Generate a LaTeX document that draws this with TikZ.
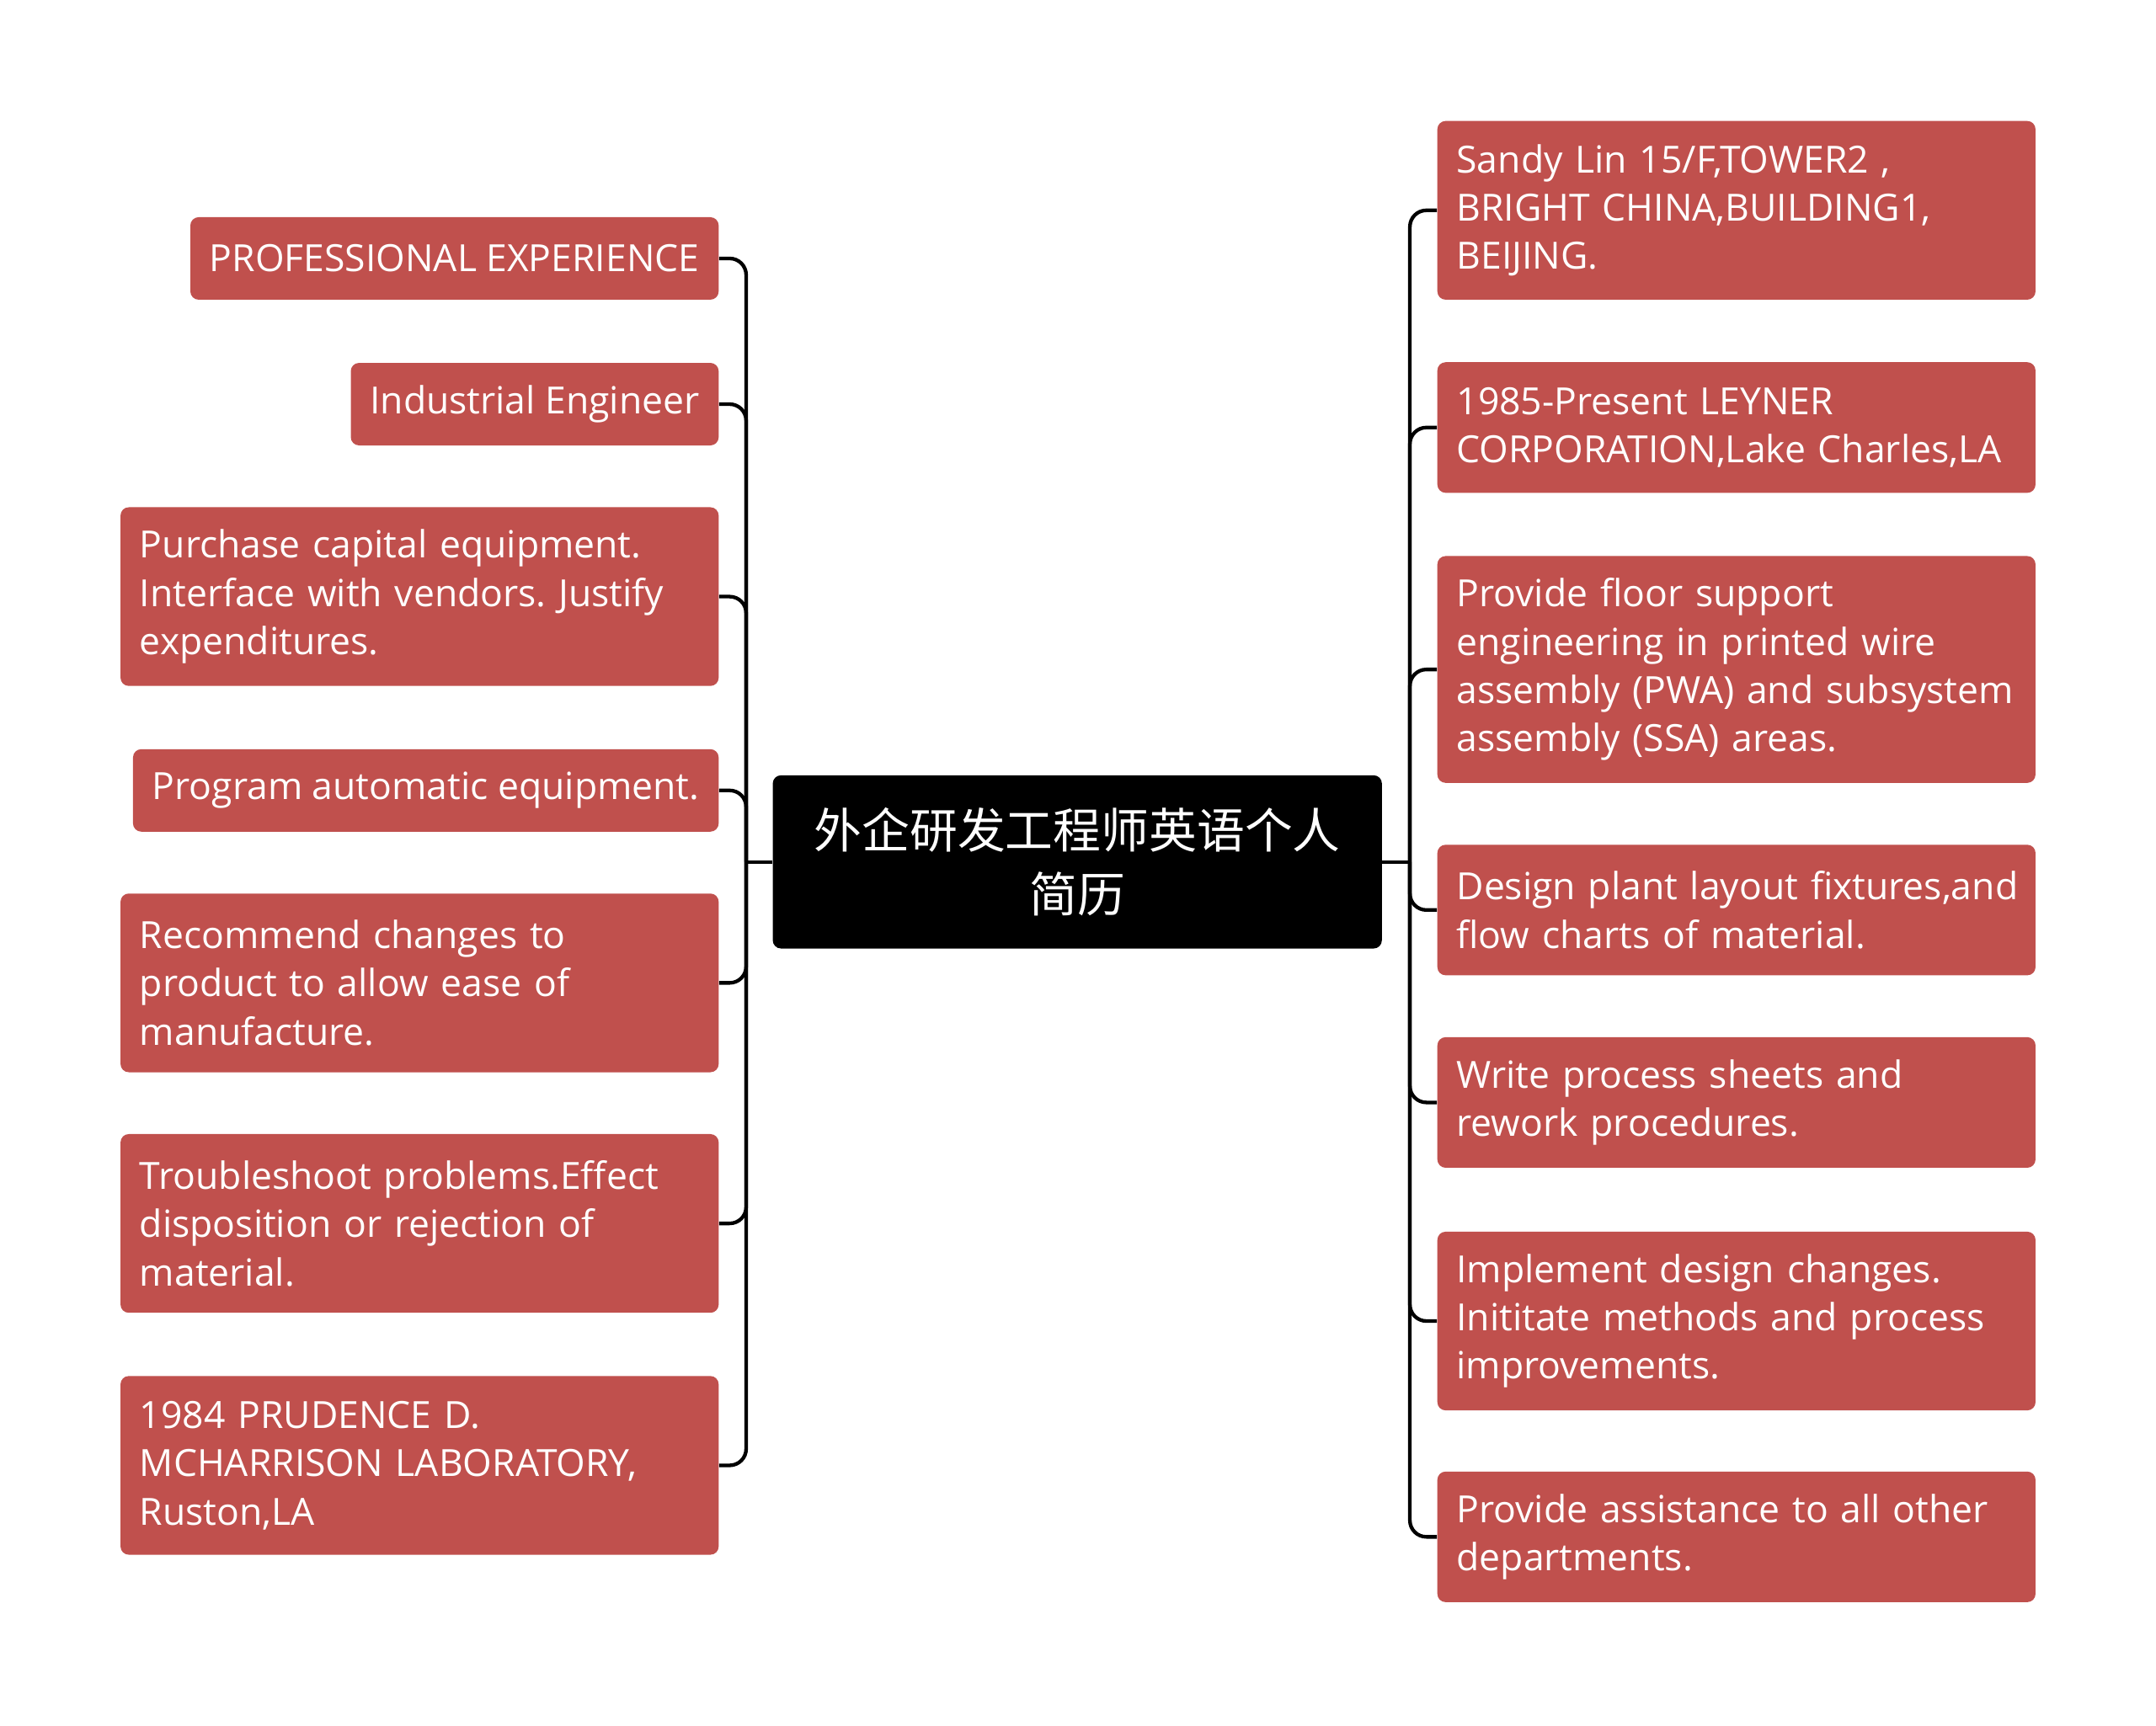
\documentclass[tikz,border=0pt]{standalone}
\usepackage{fontspec}
\setmainfont{Open Sans}
\newfontfamily\cjk{Noto Sans CJK SC}
\definecolor{boxred}{RGB}{192,80,77}
\frenchspacing
\begin{document}
\begin{tikzpicture}
    \useasboundingbox (0,0) rectangle (31.36,-25.1);
    \tikzstyle{item} = [rectangle, rounded corners=0.12cm, fill=boxred, text=white, inner xsep=0.28cm, align=left, font=\fontsize{15.5}{20}\selectfont]
    \tikzstyle{wide} = [item, text width=8.14cm]
    \tikzstyle{conn} = [line width=1.5pt, rounded corners=0.24cm]
    \node [rectangle, rounded corners=0.12cm, fill=black, text=white, align=center, minimum width=8.86cm, minimum height=2.52cm, font=\cjk\fontsize{19.8}{26.5}\selectfont] (root) at (15.67,-12.54) {外企研发工程师英语个人\\简历};
    % left side
    \node [item, anchor=east, minimum height=1.2cm] (pe) at (10.46,-3.76) {PROFESSIONAL EXPERIENCE};
    \node [item, anchor=east, minimum height=1.2cm] (ie) at (10.46,-5.88) {Industrial Engineer};
    \node [wide, anchor=east, minimum height=2.6cm] (pc) at (10.46,-8.68) {Purchase capital equipment.\\Interface with vendors. Justify\\expenditures.};
    \node [item, anchor=east, minimum height=1.2cm] (pa) at (10.46,-11.50) {Program automatic equipment.};
    \node [wide, anchor=east, minimum height=2.6cm] (rc) at (10.46,-14.30) {Recommend changes to\\product to allow ease of\\manufacture.};
    \node [wide, anchor=east, minimum height=2.6cm] (ts) at (10.46,-17.80) {Troubleshoot problems.Effect\\disposition or rejection of\\material.};
    \node [wide, anchor=east, minimum height=2.6cm] (pr) at (10.46,-21.32) {1984 PRUDENCE D.\\MCHARRISON LABORATORY,\\Ruston,LA};
    % right side
    \node [wide, anchor=west, minimum height=2.6cm] (sl) at (20.9,-3.06) {Sandy Lin 15/F,TOWER2 ,\\BRIGHT CHINA,BUILDING1,\\BEIJING.};
    \node [wide, anchor=west, minimum height=1.9cm] (ly) at (20.9,-6.22) {1985-Present LEYNER\\CORPORATION,Lake Charles,LA};
    \node [wide, anchor=west, minimum height=3.3cm] (fs) at (20.9,-9.74) {Provide floor support\\engineering in printed wire\\assembly (PWA) and subsystem\\assembly (SSA) areas.};
    \node [wide, anchor=west, minimum height=1.9cm] (dp) at (20.9,-13.24) {\mbox{Design plant layout fixtures,and}\\flow charts of material.};
    \node [wide, anchor=west, minimum height=1.9cm] (wp) at (20.9,-16.04) {Write process sheets and\\rework procedures.};
    \node [wide, anchor=west, minimum height=2.6cm] (im) at (20.9,-19.22) {Implement design changes.\\Inititate methods and process\\improvements.};
    \node [wide, anchor=west, minimum height=1.9cm] (pd) at (20.9,-22.36) {Provide assistance to all other\\departments.};
    % connectors
    \coordinate (lt) at ([xshift=-0.38cm]root.west);
    \coordinate (rt) at ([xshift=0.4cm]root.east);
    \draw [conn] (root.west) -- (lt); \draw [conn] (root.east) -- (rt);
    \foreach \n in {pe,ie,pc,pa,rc,ts,pr} \draw [conn] (lt) |- (\n.east);
    \foreach \n in {sl,ly,fs,dp,wp,im,pd} \draw [conn] (rt) |- (\n.west);
\end{tikzpicture}
\end{document}
